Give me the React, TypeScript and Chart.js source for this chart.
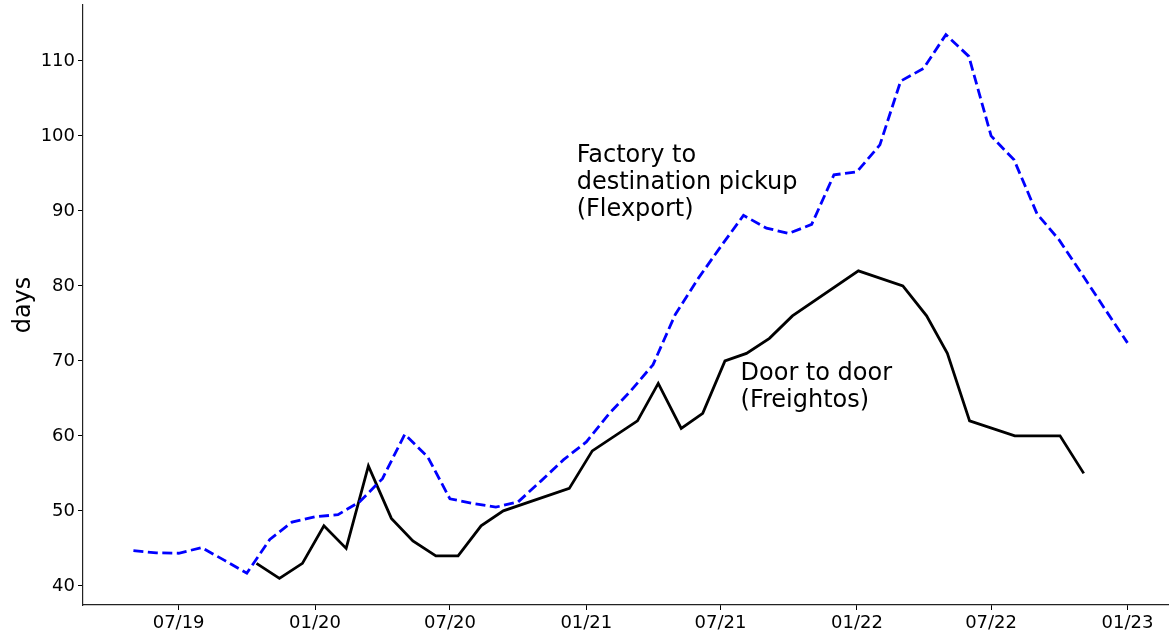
import React, { useEffect, useRef } from "react";
import { Chart, registerables } from "chart.js";

Chart.register(...registerables);

// Flexport: factory to destination pickup (monthly)
const flexportDates = [
  "2019-05-01", "2019-06-01", "2019-07-01", "2019-08-01", "2019-09-01", "2019-10-01", "2019-11-01", "2019-12-01",
  "2020-01-01", "2020-02-01", "2020-03-01", "2020-04-01", "2020-05-01", "2020-06-01", "2020-07-01", "2020-08-01",
  "2020-09-01", "2020-10-01", "2020-11-01", "2020-12-01",
  "2021-01-01", "2021-02-01", "2021-03-01", "2021-04-01", "2021-05-01", "2021-06-01", "2021-07-01", "2021-08-01",
  "2021-09-01", "2021-10-01", "2021-11-01", "2021-12-01",
  "2022-01-01", "2022-02-01", "2022-03-01", "2022-04-01", "2022-05-01", "2022-06-01", "2022-07-01", "2022-08-01",
  "2022-09-01", "2022-10-01", "2022-11-01", "2022-12-01",
  "2023-01-01",
];
const flexportDays = [
  44.7, 44.4, 44.35, 45.1, 43.4, 41.7, 46.2, 48.5,
  49.2, 49.5, 51.2, 54.3, 60.2, 57.2, 51.6, 51.0,
  50.5, 51.2, 54.0, 56.8,
  59.2, 63.0, 65.9, 69.5, 76.2, 81.0, 85.2, 89.4,
  87.7, 87.0, 88.2, 94.8,
  95.2, 98.8, 107.3, 109.0, 113.5, 110.6, 100.0, 96.8,
  89.6, 86.1, 81.5, 77.0,
  72.4,
];

// Freightos: door to door
const freightosDates = [
  "2019-10-14", "2019-11-14", "2019-12-15", "2020-01-13", "2020-02-12", "2020-03-13", "2020-04-13", "2020-05-12",
  "2020-06-12", "2020-07-12", "2020-08-12", "2020-09-11", "2020-12-09", "2021-01-09", "2021-03-11", "2021-04-08",
  "2021-05-09", "2021-06-07", "2021-07-07", "2021-08-05", "2021-09-05", "2021-10-06", "2022-01-03", "2022-03-04",
  "2022-04-05", "2022-05-03", "2022-06-02", "2022-08-02", "2022-10-02", "2022-11-03",
];
const freightosDays = [
  43, 41, 43, 48, 45, 56, 49, 46,
  44, 44, 48, 50, 53, 58, 62, 67,
  61, 63, 70, 71, 73, 76, 82, 80,
  76, 71, 62, 60, 60, 55,
];

const xTickDates = ["2019-07-01", "2020-01-01", "2020-07-01", "2021-01-01", "2021-07-01", "2022-01-01", "2022-07-01", "2023-01-01"];
const xTickLabels = ["07/19", "01/20", "07/20", "01/21", "07/21", "01/22", "07/22", "01/23"];
const yTicks = [40, 50, 60, 70, 80, 90, 100, 110];

const xMinDate = "2019-02-22";
const xMaxDate = "2023-02-26";
const yMin = 37.45;
const yMax = 117.45;

const flexportLabelLines = ["Factory to", "destination pickup", "(Flexport)"];
const freightosLabelLines = ["Door to door", "(Freightos)"];
const flexportLabelAt = { date: "2020-12-19", value: 96.5 };
const freightosLabelAt = { date: "2021-07-28", value: 67.4 };

const FONT = '"DejaVu Sans", sans-serif';

const toT = (d: string) => Date.parse(d);

export default function App() {
  const ref = useRef<HTMLCanvasElement | null>(null);

  useEffect(() => {
    if (!ref.current) return;

    const labelPlugin = {
      id: "textLabels",
      afterDatasetsDraw(chart: any) {
        const { ctx, scales } = chart;
        const draw = (at: { date: string; value: number }, lines: string[]) => {
          const x = scales.x.getPixelForValue(toT(at.date));
          const y = scales.y.getPixelForValue(at.value);
          ctx.save();
          ctx.font = `24px ${FONT}`;
          ctx.fillStyle = "#000";
          ctx.textAlign = "left";
          ctx.textBaseline = "alphabetic";
          lines.forEach((l, i) => ctx.fillText(l, x, y + i * 27));
          ctx.restore();
        };
        draw(flexportLabelAt, flexportLabelLines);
        draw(freightosLabelAt, freightosLabelLines);
      },
    };

    const chart = new Chart(ref.current, {
      type: "line",
      data: {
        datasets: [
          {
            label: "Factory to destination pickup (Flexport)",
            data: flexportDates.map((d, i) => ({ x: toT(d), y: flexportDays[i] })),
            borderColor: "#0000ff",
            borderWidth: 2.8,
            borderDash: [10, 4.5],
            borderCapStyle: "butt",
            pointRadius: 0,
            tension: 0,
            fill: false,
            order: 0,
          },
          {
            label: "Door to door (Freightos)",
            data: freightosDates.map((d, i) => ({ x: toT(d), y: freightosDays[i] })),
            borderColor: "#000000",
            borderWidth: 2.8,
            pointRadius: 0,
            tension: 0,
            fill: false,
            order: 1,
          },
        ],
      },
      options: {
        animation: false,
        responsive: false,
        maintainAspectRatio: false,
        layout: { padding: { top: 5, left: 0, right: 0, bottom: 0 } },
        plugins: {
          legend: { display: false },
          tooltip: { enabled: false },
        },
        scales: {
          x: {
            type: "linear",
            min: toT(xMinDate),
            max: toT(xMaxDate),
            afterBuildTicks: (scale: any) => {
              scale.ticks = xTickDates.map((d) => ({ value: toT(d) }));
            },
            afterFit: (scale: any) => {
              scale.height = 34;
              scale.paddingLeft = 0;
              scale.paddingRight = 0;
            },
            grid: {
              drawOnChartArea: false,
              drawTicks: true,
              tickLength: 5,
              tickColor: "#000",
              tickWidth: 1,
            },
            border: { display: true, color: "#222", width: 1.2 },
            ticks: {
              autoSkip: false,
              maxRotation: 0,
              padding: 3,
              color: "#000",
              font: { family: FONT, size: 18 },
              callback: (v: any) => {
                const i = xTickDates.findIndex((d) => toT(d) === v);
                return i >= 0 ? xTickLabels[i] : "";
              },
            },
          },
          y: {
            type: "linear",
            min: yMin,
            max: yMax,
            afterBuildTicks: (scale: any) => {
              scale.ticks = yTicks.map((v) => ({ value: v }));
            },
            afterFit: (scale: any) => {
              scale.width = 83;
              scale.paddingTop = 0;
              scale.paddingBottom = 0;
            },
            grid: {
              drawOnChartArea: false,
              drawTicks: true,
              tickLength: 5,
              tickColor: "#000",
              tickWidth: 1,
            },
            border: { display: true, color: "#222", width: 1.2 },
            title: {
              display: true,
              text: "days",
              color: "#000",
              font: { family: FONT, size: 24 },
              padding: { top: 9, bottom: 0 },
            },
            ticks: {
              autoSkip: false,
              padding: 3,
              color: "#000",
              font: { family: FONT, size: 18 },
            },
          },
        },
      },
      plugins: [labelPlugin],
    } as any);

    return () => chart.destroy();
  }, []);

  return (
    <div style={{ position: "fixed", left: 0, top: 0, width: 1169, height: 639, background: "#fff" }}>
      <canvas ref={ref} width={1169} height={639} style={{ display: "block" }} />
    </div>
  );
}
